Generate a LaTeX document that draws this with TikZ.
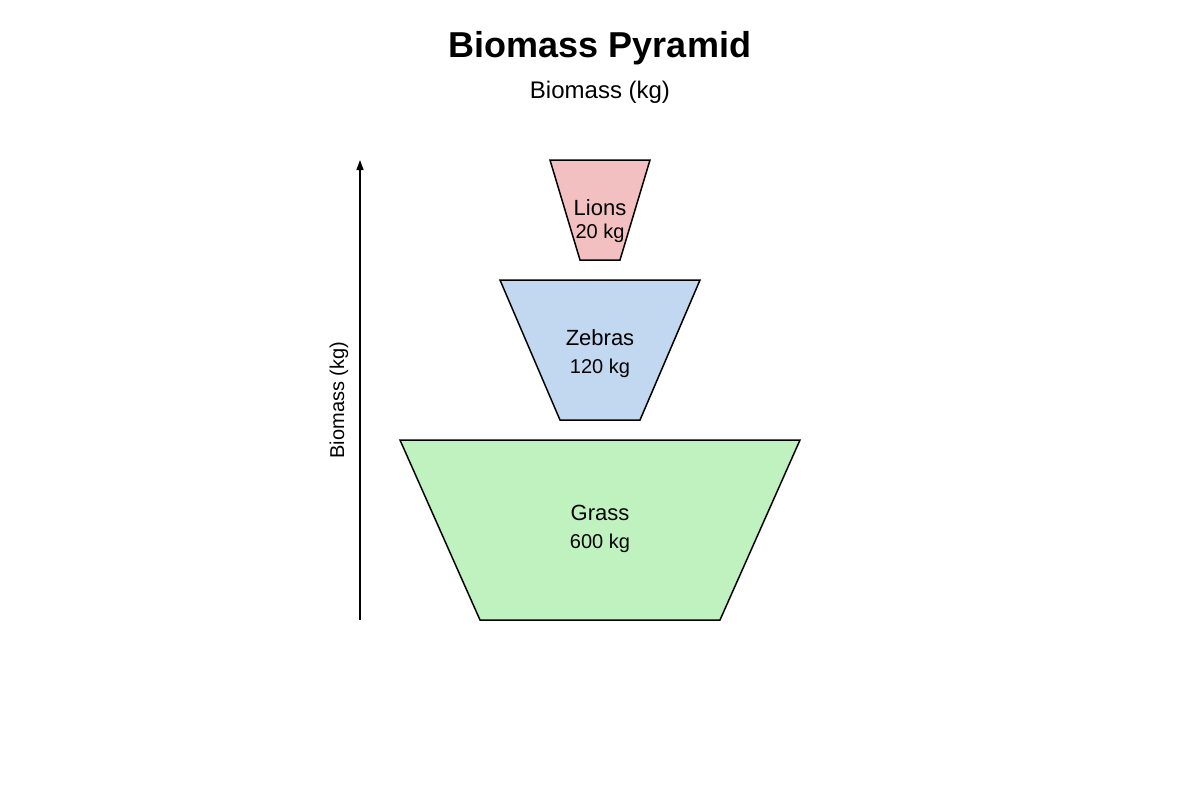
\documentclass[tikz,border=0pt]{standalone}
\usepackage{fontspec}
\setmainfont{Liberation Sans}
\usetikzlibrary{arrows.meta}
\definecolor{lionc}{HTML}{F2C0C0}
\definecolor{zebc}{HTML}{C2D8F0}
\definecolor{grassc}{HTML}{C0F2C0}
\begin{document}
\begin{tikzpicture}[x=1pt,y=-1pt,
  tier/.style={draw=black,line width=1.5pt,line join=miter},
  lbl/.style={font=\fontsize{22}{24}\selectfont,inner sep=0pt,anchor=center},
  val/.style={font=\fontsize{20}{22}\selectfont,inner sep=0pt,anchor=center}]
\useasboundingbox (0,0) rectangle (1200,800);
\node[font=\fontsize{36}{40}\selectfont\bfseries,inner sep=0pt] (title) at (600,48) {Biomass Pyramid};
\node[font=\fontsize{24}{26}\selectfont,inner sep=0pt] (sub) at (600,92) {Biomass (kg)};
\fill[lionc,tier] (550,160) -- (650,160) -- (620,260) -- (580,260) -- cycle;
\fill[zebc,tier] (500,280) -- (700,280) -- (640,420) -- (560,420) -- cycle;
\fill[grassc,tier] (400,440) -- (800,440) -- (720,620) -- (480,620) -- cycle;
\node[lbl] (lions) at (600,208) {Lions};
\node[val] (lionsv) at (600,233) {20 kg};
\node[lbl] (zebras) at (600,338) {Zebras};
\node[val] (zebrasv) at (600,368) {120 kg};
\node[lbl] (grass) at (600,513) {Grass};
\node[val] (grassv) at (600,543) {600 kg};
\coordinate (a0) at (360,620);
\coordinate (a1) at (360,160);
\draw[line width=1.5pt,-{Triangle[length=10pt,width=7pt]}] (a0) -- (a1);
\node[val,rotate=90] (axl) at (339,400) {Biomass (kg)};
\end{tikzpicture}
\end{document}
